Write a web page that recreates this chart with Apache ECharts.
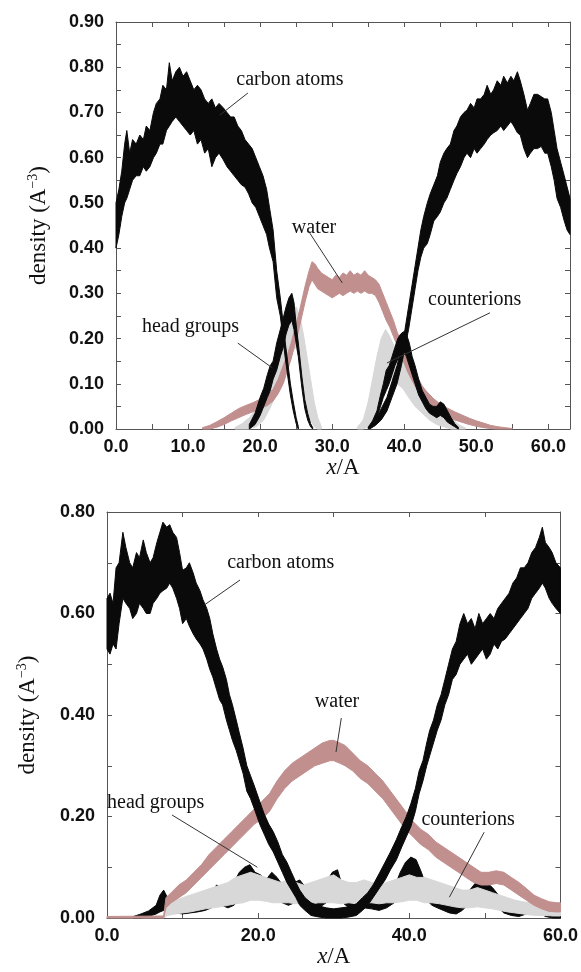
<!DOCTYPE html>
<html><head><meta charset="utf-8">
<script src="https://cdn.jsdelivr.net/npm/echarts@6/dist/echarts.min.js"></script>
<style>html,body{margin:0;padding:0;background:#fff}#c{width:581px;height:972px}</style>
</head><body><div id="c"></div>
<script>
// ---------- data: rows of [x, lower, upper] (band of the noisy density trace) ----------
// Top panel
const topCarbonLeft = [
[0.0,0.40,0.50],[0.4,0.43,0.53],[0.8,0.47,0.57],[1.2,0.50,0.63],[1.5,0.51,0.66],[1.9,0.53,0.61],
[2.3,0.55,0.64],[2.8,0.56,0.63],[3.3,0.56,0.65],[3.8,0.58,0.64],[4.2,0.57,0.67],[4.7,0.58,0.66],
[5.2,0.60,0.70],[5.6,0.61,0.72],[6.1,0.63,0.73],[6.5,0.63,0.76],[7.0,0.66,0.75],[7.4,0.67,0.81],
[7.8,0.68,0.77],[8.3,0.69,0.79],[8.8,0.68,0.80],[9.3,0.67,0.78],[9.8,0.66,0.79],[10.3,0.65,0.77],
[10.8,0.66,0.75],[11.3,0.63,0.76],[11.8,0.64,0.75],[12.3,0.61,0.73],[12.8,0.62,0.72],[13.3,0.58,0.73],
[13.8,0.60,0.71],[14.3,0.61,0.72],[14.9,0.595,0.71],[15.4,0.58,0.70],[15.9,0.57,0.69],[16.4,0.56,0.69],
[16.9,0.55,0.67],[17.4,0.54,0.66],[17.9,0.535,0.64],[18.4,0.52,0.63],[18.9,0.50,0.62],[19.4,0.49,0.60],
[19.9,0.47,0.58],[20.4,0.45,0.56],[20.9,0.43,0.53],[21.3,0.40,0.49],[21.8,0.37,0.44],[22.3,0.29,0.35],
[22.8,0.25,0.29],[23.5,0.155,0.19],[24.2,0.075,0.10],[24.6,0.04,0.06],[25.0,0.012,0.025],[25.3,0.0,0.005]
];
const topCarbonRight = [
[35.2,0.0,0.004],[36.0,0.008,0.02],[36.8,0.02,0.045],[37.6,0.04,0.07],[38.3,0.07,0.105],[39.0,0.10,0.14],
[39.6,0.14,0.18],[40.1,0.18,0.22],[40.6,0.22,0.27],[41.1,0.27,0.32],[41.5,0.31,0.36],[41.9,0.35,0.40],
[42.3,0.38,0.44],[42.7,0.40,0.47],[43.2,0.41,0.50],[43.6,0.43,0.52],[44.1,0.46,0.54],[44.6,0.47,0.56],
[45.0,0.48,0.59],[45.5,0.50,0.61],[45.9,0.51,0.62],[46.4,0.53,0.63],[46.9,0.55,0.66],[47.3,0.565,0.67],
[47.8,0.58,0.69],[48.3,0.60,0.70],[48.7,0.61,0.705],[49.2,0.60,0.72],[49.7,0.62,0.71],[50.1,0.61,0.73],
[50.6,0.62,0.73],[51.1,0.63,0.74],[51.5,0.64,0.76],[52.0,0.65,0.74],[52.4,0.655,0.75],[52.9,0.66,0.77],
[53.4,0.67,0.76],[53.8,0.66,0.78],[54.3,0.67,0.765],[54.8,0.68,0.78],[55.2,0.67,0.77],[55.7,0.655,0.79],
[56.1,0.65,0.77],[56.6,0.62,0.74],[57.1,0.60,0.705],[57.5,0.61,0.72],[58.0,0.62,0.74],[58.5,0.62,0.74],
[59.0,0.625,0.735],[59.5,0.61,0.73],[59.9,0.61,0.73],[60.4,0.58,0.70],[60.8,0.55,0.66],[61.2,0.51,0.62],
[61.7,0.49,0.59],[62.2,0.46,0.56],[62.6,0.44,0.535],[63.0,0.43,0.51]
];
const topHeadLeft = [
[18.5,0.0,0.01],[19.3,0.01,0.035],[20.0,0.03,0.07],[20.5,0.05,0.09],[21.0,0.07,0.12],[21.4,0.085,0.14],
[21.8,0.11,0.15],[22.3,0.13,0.19],[22.8,0.16,0.22],[23.2,0.18,0.245],[23.6,0.21,0.27],[24.0,0.23,0.29],
[24.4,0.24,0.30],[24.7,0.22,0.28],[25.0,0.19,0.23],[25.3,0.16,0.19],[25.8,0.09,0.115],[26.2,0.045,0.065],
[26.6,0.02,0.035],[27.0,0.005,0.012],[27.3,0.0,0.003]
];
const topHeadRight = [
[35.0,0.0,0.004],[35.6,0.008,0.018],[36.2,0.025,0.04],[36.7,0.05,0.075],[37.1,0.07,0.10],[37.5,0.085,0.13],
[37.9,0.10,0.14],[38.3,0.12,0.16],[38.7,0.14,0.18],[39.1,0.155,0.20],[39.5,0.17,0.21],[39.9,0.175,0.215],
[40.3,0.16,0.21],[40.7,0.14,0.19],[41.1,0.12,0.16],[41.5,0.10,0.14],[42.0,0.075,0.11],[42.5,0.06,0.085],
[43.0,0.045,0.07],[43.5,0.035,0.055],[44.0,0.03,0.05],[44.5,0.025,0.05],[45.0,0.03,0.06],[45.5,0.025,0.055],
[46.0,0.015,0.04],[46.5,0.01,0.025],[47.0,0.005,0.012],[47.5,0.0,0.004]
];
const topCounterLeft = [
[16.5,0.0,0.003],[17.5,0.0,0.012],[18.5,0.0,0.025],[19.5,0.005,0.045],[20.5,0.02,0.075],[21.5,0.05,0.11],
[22.5,0.09,0.16],[23.5,0.13,0.22],[24.3,0.17,0.26],[25.0,0.18,0.27],[25.5,0.15,0.25],[26.0,0.10,0.21],
[26.5,0.05,0.16],[27.0,0.02,0.11],[27.5,0.005,0.06],[28.0,0.0,0.025],[28.5,0.0,0.005]
];
const topCounterRight = [
[33.5,0.0,0.004],[34.3,0.0,0.02],[35.0,0.005,0.06],[35.6,0.02,0.11],[36.2,0.05,0.16],[36.8,0.08,0.20],
[37.4,0.10,0.22],[37.8,0.11,0.21],[38.4,0.11,0.19],[39.0,0.10,0.17],[39.8,0.09,0.15],[40.6,0.07,0.13],
[41.5,0.05,0.10],[42.5,0.035,0.08],[43.5,0.02,0.06],[44.5,0.01,0.05],[45.5,0.005,0.04],[46.5,0.0,0.025],
[47.5,0.0,0.01],[48.5,0.0,0.002]
];
const topWater = [
[12.0,0.0,0.003],[13.0,0.0,0.008],[14.0,0.004,0.016],[15.0,0.01,0.025],[16.0,0.018,0.035],[17.0,0.025,0.045],
[18.0,0.032,0.052],[19.0,0.038,0.058],[20.0,0.045,0.066],[21.0,0.052,0.075],[21.8,0.062,0.088],[22.5,0.078,0.11],
[23.2,0.10,0.14],[23.8,0.13,0.165],[24.3,0.155,0.19],[24.8,0.185,0.22],[25.3,0.215,0.25],[25.8,0.25,0.285],
[26.3,0.285,0.32],[26.8,0.315,0.35],[27.2,0.33,0.37],[27.6,0.32,0.365],[28.0,0.31,0.355],[28.5,0.305,0.345],
[29.0,0.30,0.34],[29.5,0.295,0.335],[30.0,0.29,0.33],[30.5,0.295,0.34],[31.0,0.30,0.335],[31.5,0.295,0.345],
[32.0,0.30,0.34],[32.5,0.305,0.35],[33.0,0.30,0.34],[33.5,0.305,0.345],[34.0,0.30,0.34],[34.5,0.305,0.35],
[35.0,0.30,0.34],[35.5,0.30,0.335],[36.0,0.295,0.33],[36.5,0.28,0.32],[37.0,0.26,0.30],[37.5,0.24,0.28],
[38.0,0.225,0.26],[38.5,0.205,0.24],[39.0,0.185,0.215],[39.5,0.165,0.195],[40.0,0.145,0.175],[40.5,0.125,0.155],
[41.0,0.11,0.14],[41.5,0.095,0.125],[42.0,0.08,0.11],[42.5,0.07,0.095],[43.0,0.06,0.085],[44.0,0.045,0.068],
[45.0,0.035,0.055],[46.0,0.028,0.046],[47.0,0.02,0.038],[48.0,0.015,0.031],[49.0,0.01,0.024],[50.0,0.006,0.018],
[51.0,0.003,0.013],[52.0,0.001,0.008],[53.0,0.0,0.005],[54.0,0.0,0.003],[55.0,0.0,0.001]
];
// Bottom panel
const botCarbon = [
[0.0,0.53,0.63],[0.4,0.52,0.64],[0.8,0.54,0.62],[1.2,0.53,0.69],[1.6,0.58,0.70],[2.1,0.63,0.76],
[2.5,0.62,0.73],[3.0,0.61,0.70],[3.4,0.59,0.69],[3.9,0.60,0.72],[4.3,0.62,0.71],[4.8,0.61,0.745],
[5.2,0.60,0.72],[5.7,0.60,0.70],[6.1,0.62,0.71],[6.6,0.63,0.74],[7.0,0.64,0.76],[7.4,0.645,0.78],
[7.9,0.65,0.77],[8.3,0.66,0.775],[8.7,0.65,0.76],[9.2,0.63,0.75],[9.6,0.61,0.72],[10.0,0.58,0.685],
[10.5,0.59,0.69],[10.9,0.575,0.70],[11.4,0.56,0.68],[11.8,0.55,0.66],[12.3,0.54,0.645],[12.7,0.53,0.627],
[13.2,0.51,0.61],[13.6,0.49,0.59],[14.0,0.475,0.56],[14.5,0.45,0.53],[14.9,0.43,0.51],[15.3,0.42,0.495],
[15.8,0.39,0.47],[16.2,0.37,0.44],[16.6,0.35,0.42],[17.1,0.33,0.39],[17.5,0.31,0.365],[18.0,0.285,0.335],
[18.5,0.25,0.30],[19.0,0.235,0.28],[19.5,0.215,0.26],[20.2,0.185,0.23],[20.8,0.165,0.205],[21.4,0.145,0.185],
[22.0,0.13,0.17],[22.6,0.11,0.15],[23.2,0.09,0.125],[23.8,0.07,0.11],[24.4,0.055,0.09],[25.0,0.04,0.07],
[25.5,0.025,0.055],[26.2,0.015,0.04],[27.0,0.005,0.03],[28.0,0.002,0.024],[29.0,0.0,0.02],[30.0,0.0,0.018],
[31.0,0.0,0.02],[32.0,0.002,0.022],[33.0,0.005,0.028],[33.8,0.015,0.04],[34.5,0.025,0.05],[35.2,0.04,0.065],
[36.1,0.06,0.09],[36.8,0.075,0.11],[37.5,0.095,0.13],[38.3,0.115,0.155],[39.0,0.14,0.18],[39.6,0.16,0.20],
[40.2,0.18,0.225],[40.8,0.21,0.255],[41.3,0.245,0.29],[41.8,0.27,0.31],[42.3,0.30,0.345],[42.7,0.32,0.37],
[43.2,0.345,0.39],[43.7,0.37,0.42],[44.2,0.39,0.44],[44.7,0.42,0.47],[45.2,0.44,0.50],[45.7,0.47,0.53],
[46.2,0.48,0.545],[46.7,0.50,0.58],[47.2,0.51,0.60],[47.7,0.52,0.58],[48.2,0.50,0.59],[48.7,0.51,0.57],
[49.2,0.52,0.60],[49.7,0.53,0.58],[50.2,0.51,0.59],[50.7,0.52,0.60],[51.2,0.54,0.59],[51.7,0.53,0.61],
[52.2,0.545,0.62],[52.7,0.55,0.63],[53.2,0.56,0.64],[53.7,0.57,0.66],[54.2,0.58,0.67],[54.7,0.59,0.69],
[55.2,0.60,0.69],[55.7,0.61,0.70],[56.2,0.63,0.72],[56.7,0.64,0.73],[57.2,0.65,0.75],[57.6,0.66,0.77],
[58.0,0.65,0.74],[58.5,0.63,0.73],[58.9,0.62,0.72],[59.4,0.61,0.70],[60.0,0.60,0.69]
];
const botWater = [
[0.0,0.0,0.003],[7.5,0.0,0.004],[7.8,0.02,0.04],[8.5,0.03,0.05],[9.5,0.04,0.065],[10.5,0.05,0.075],
[11.5,0.065,0.09],[12.5,0.08,0.105],[13.5,0.095,0.125],[14.5,0.11,0.14],[15.5,0.125,0.155],[16.5,0.14,0.17],
[17.5,0.155,0.185],[18.5,0.17,0.20],[19.5,0.185,0.215],[20.5,0.195,0.23],[21.5,0.21,0.245],[22.5,0.235,0.27],
[23.5,0.255,0.29],[24.5,0.27,0.305],[25.5,0.28,0.315],[26.5,0.29,0.325],[27.5,0.30,0.335],[28.5,0.305,0.345],
[29.5,0.31,0.35],[30.0,0.31,0.35],[30.8,0.305,0.345],[31.5,0.30,0.34],[32.5,0.29,0.325],[33.5,0.275,0.31],
[34.5,0.265,0.30],[35.5,0.25,0.285],[36.5,0.235,0.27],[37.5,0.215,0.25],[38.5,0.195,0.23],[39.5,0.175,0.21],
[40.5,0.16,0.19],[41.5,0.145,0.175],[42.5,0.135,0.165],[43.5,0.12,0.15],[44.5,0.11,0.14],[45.5,0.10,0.13],
[46.5,0.09,0.12],[47.5,0.08,0.11],[48.5,0.07,0.10],[49.5,0.065,0.09],[50.5,0.065,0.09],[51.5,0.068,0.093],
[52.5,0.065,0.09],[53.5,0.055,0.08],[54.5,0.045,0.07],[55.5,0.035,0.058],[56.5,0.025,0.045],[57.5,0.018,0.038],
[58.5,0.013,0.032],[59.5,0.012,0.03],[60.0,0.012,0.03]
];
const botCounter = [
[7.5,0.0,0.005],[8.0,0.005,0.03],[9.0,0.008,0.035],[10.0,0.01,0.04],[11.0,0.012,0.045],[12.0,0.015,0.05],
[13.0,0.018,0.055],[14.0,0.02,0.06],[15.0,0.022,0.065],[16.0,0.025,0.07],[17.0,0.028,0.08],[18.0,0.03,0.085],
[19.0,0.035,0.09],[20.0,0.035,0.085],[21.0,0.033,0.08],[22.0,0.03,0.075],[23.0,0.03,0.07],[24.0,0.03,0.075],
[25.0,0.028,0.07],[26.0,0.03,0.065],[27.0,0.028,0.07],[28.0,0.03,0.075],[29.0,0.03,0.08],[30.0,0.03,0.085],
[31.0,0.028,0.075],[32.0,0.03,0.07],[33.0,0.028,0.07],[34.0,0.03,0.075],[35.0,0.03,0.07],[36.0,0.028,0.065],
[37.0,0.03,0.07],[38.0,0.03,0.075],[39.0,0.032,0.08],[40.0,0.035,0.085],[41.0,0.035,0.08],[42.0,0.03,0.08],
[43.0,0.03,0.075],[44.0,0.028,0.07],[45.0,0.025,0.065],[46.0,0.022,0.06],[47.0,0.02,0.055],[48.0,0.02,0.055],
[49.0,0.022,0.06],[50.0,0.02,0.055],[51.0,0.018,0.05],[52.0,0.015,0.045],[53.0,0.012,0.04],[54.0,0.01,0.035],
[55.0,0.008,0.032],[56.0,0.006,0.03],[57.0,0.005,0.03],[58.0,0.005,0.03],[59.0,0.004,0.03],[60.0,0.004,0.028]
];
const botHead = [
[3.5,0.0,0.003],[4.5,0.0,0.008],[5.5,0.003,0.014],[6.5,0.008,0.025],[7.0,0.012,0.045],[7.5,0.015,0.055],
[8.0,0.012,0.04],[9.0,0.01,0.025],[10.0,0.008,0.02],[11.0,0.01,0.022],[12.0,0.012,0.03],[13.0,0.015,0.04],
[13.8,0.02,0.05],[14.5,0.03,0.065],[15.2,0.025,0.06],[16.0,0.02,0.05],[16.8,0.025,0.07],[17.5,0.04,0.09],
[18.2,0.05,0.10],[18.9,0.055,0.105],[19.6,0.05,0.09],[20.3,0.045,0.085],[21.0,0.04,0.075],[21.8,0.045,0.09],
[22.5,0.04,0.08],[23.2,0.03,0.065],[24.0,0.025,0.055],[24.8,0.03,0.07],[25.5,0.035,0.075],[26.3,0.03,0.06],
[27.0,0.02,0.045],[28.0,0.02,0.05],[29.0,0.03,0.07],[29.8,0.04,0.09],[30.5,0.045,0.095],[31.2,0.03,0.06],
[32.0,0.02,0.04],[33.0,0.015,0.035],[34.0,0.02,0.04],[35.0,0.018,0.035],[36.0,0.015,0.03],[37.0,0.02,0.04],
[38.0,0.03,0.06],[38.8,0.05,0.09],[39.5,0.065,0.11],[40.2,0.07,0.12],[40.9,0.065,0.115],[41.6,0.05,0.09],
[42.3,0.035,0.06],[43.0,0.025,0.045],[43.7,0.02,0.04],[44.5,0.015,0.035],[45.3,0.01,0.028],[46.2,0.008,0.02],
[47.0,0.015,0.035],[48.0,0.03,0.055],[48.8,0.045,0.07],[49.5,0.05,0.075],[50.2,0.045,0.07],[51.0,0.035,0.06],
[51.8,0.02,0.045],[52.5,0.01,0.03],[53.5,0.005,0.015],[54.5,0.003,0.01],[55.5,0.008,0.02],[56.5,0.015,0.03],
[57.3,0.01,0.022],[58.0,0.003,0.01],[59.0,0.0,0.005],[60.0,0.0,0.003]
];
// Annotations in data coordinates: [label, textX, textY, lineX1, lineY1, lineX2, lineY2]
const topNotes = [
['carbon atoms',16.7,0.772,18.3,0.743,14.4,0.694],
['water',24.4,0.444,26.9,0.433,31.4,0.323],
['counterions',43.3,0.285,51.9,0.257,37.6,0.146],
['head groups',3.6,0.226,16.9,0.19,21.7,0.135]
];
const botNotes = [
['carbon atoms',15.9,0.70,17.6,0.666,12.9,0.617],
['water',27.5,0.426,31.0,0.394,30.3,0.327],
['head groups',0.0,0.227,8.6,0.203,19.9,0.10],
['counterions',41.6,0.193,49.9,0.169,45.3,0.041]
];
// Axis settings
const topXMax = 63, topYMax = 0.9, botXMax = 60, botYMax = 0.8;

// ---------- chart ----------
const BLACK = '#0a0a0a', WATER = '#c08f8e', GRAY = '#d8d8d8', AXIS = '#555';
const SANS = '"Liberation Sans", Arial, sans-serif';
const SERIF = '"Liberation Serif", "Times New Roman", serif';

function band(rows, color, g, z) {
  return {
    type: 'custom', coordinateSystem: 'cartesian2d', xAxisIndex: g * 2, yAxisIndex: g * 2,
    z: z, silent: true, animation: false,
    data: [[rows[0][0], rows[0][1]]],
    renderItem: function (params, api) {
      const pts = [];
      for (let i = 0; i < rows.length; i++) pts.push(api.coord([rows[i][0], rows[i][2]]));
      for (let i = rows.length - 1; i >= 0; i--) pts.push(api.coord([rows[i][0], rows[i][1]]));
      return { type: 'polygon', shape: { points: pts },
        style: { fill: color, stroke: color, lineWidth: 1 } };
    }
  };
}
function notes(list, g) {
  return {
    type: 'custom', coordinateSystem: 'cartesian2d', xAxisIndex: g * 2, yAxisIndex: g * 2,
    z: 20, silent: true, animation: false,
    data: list.map(n => [n[1], n[2]]),
    renderItem: function (params, api) {
      const n = list[params.dataIndex];
      const t = api.coord([n[1], n[2]]);
      const a = api.coord([n[3], n[4]]);
      const b = api.coord([n[5], n[6]]);
      return { type: 'group', children: [
        { type: 'line', shape: { x1: a[0], y1: a[1], x2: b[0], y2: b[1] },
          style: { stroke: '#333', lineWidth: 1 } },
        { type: 'text', x: t[0], y: t[1],
          style: { text: n[0], fill: '#111', font: '20px ' + SERIF, align: 'left', verticalAlign: 'middle' } }
      ]};
    }
  };
}
function xAxis(g, max, interval, labelStep, pos) {
  const main = pos === 'bottom';
  return {
    type: 'value', gridIndex: g, position: pos, min: 0, max: max, interval: interval,
    axisLine: { show: true, onZero: false, lineStyle: { color: AXIS, width: 1 } },
    axisTick: { show: true, inside: true, length: 5, lineStyle: { color: AXIS } },
    splitLine: { show: false },
    axisLabel: { show: main, margin: 9, color: '#111', fontFamily: SANS, fontWeight: 'bold', fontSize: 18,
      formatter: v => (Math.round(v * 10) % (labelStep * 10) === 0 ? v.toFixed(1) : '') },
    name: main ? '{i|x}{n|/A}' : '', nameLocation: 'middle', nameGap: 18,
    nameTextStyle: { rich: {
      i: { fontFamily: SERIF, fontStyle: 'italic', fontSize: 23, color: '#111' },
      n: { fontFamily: SERIF, fontSize: 23, color: '#111' } } }
  };
}
function yAxis(g, max, labelStep, pos, gap) {
  const main = pos === 'left';
  return {
    type: 'value', gridIndex: g, position: pos, min: 0, max: max, interval: g === 0 ? 0.05 : 0.1,
    axisLine: { show: true, onZero: false, lineStyle: { color: AXIS, width: 1 } },
    axisTick: { show: true, inside: true, length: 5, lineStyle: { color: AXIS } },
    splitLine: { show: false },
    axisLabel: { show: main, margin: 12, color: '#111', fontFamily: SANS, fontWeight: 'bold', fontSize: 18,
      formatter: v => (Math.round(v * 100) % Math.round(labelStep * 100) === 0 ? v.toFixed(2) : '') },
    name: main ? '{n|density (A}{s|−3}{n|)}' : '', nameLocation: 'middle', nameRotate: 90, nameGap: gap,
    nameTextStyle: { rich: {
      n: { fontFamily: SERIF, fontSize: 23, color: '#111', lineHeight: 26 },
      s: { fontFamily: SERIF, fontSize: 14, color: '#111', verticalAlign: 'top', lineHeight: 26 } } }
  };
}

const chart = echarts.init(document.getElementById('c'));
chart.setOption({
  animation: false,
  backgroundColor: '#fff',
  grid: [
    { left: 116, top: 22, width: 454, height: 407 },
    { left: 107, top: 512, width: 454, height: 406 }
  ],
  xAxis: [
    xAxis(0, topXMax, 5, 10, 'bottom'), xAxis(0, topXMax, 5, 10, 'top'),
    xAxis(1, botXMax, 10, 20, 'bottom'), xAxis(1, botXMax, 10, 20, 'top')
  ],
  yAxis: [
    yAxis(0, topYMax, 0.1, 'left', 64), yAxis(0, topYMax, 0.1, 'right', 0),
    yAxis(1, botYMax, 0.2, 'left', 66), yAxis(1, botYMax, 0.2, 'right', 0)
  ],
  series: [
    band(topCounterLeft, GRAY, 0, 3), band(topCounterRight, GRAY, 0, 3),
    band(topWater, WATER, 0, 4),
    band(topHeadLeft, BLACK, 0, 5), band(topHeadRight, BLACK, 0, 5),
    band(topCarbonLeft, BLACK, 0, 6), band(topCarbonRight, BLACK, 0, 6),
    notes(topNotes, 0),
    band(botHead, BLACK, 1, 3), band(botCounter, GRAY, 1, 4),
    band(botWater, WATER, 1, 5), band(botCarbon, BLACK, 1, 6),
    notes(botNotes, 1)
  ]
});
</script></body></html>
